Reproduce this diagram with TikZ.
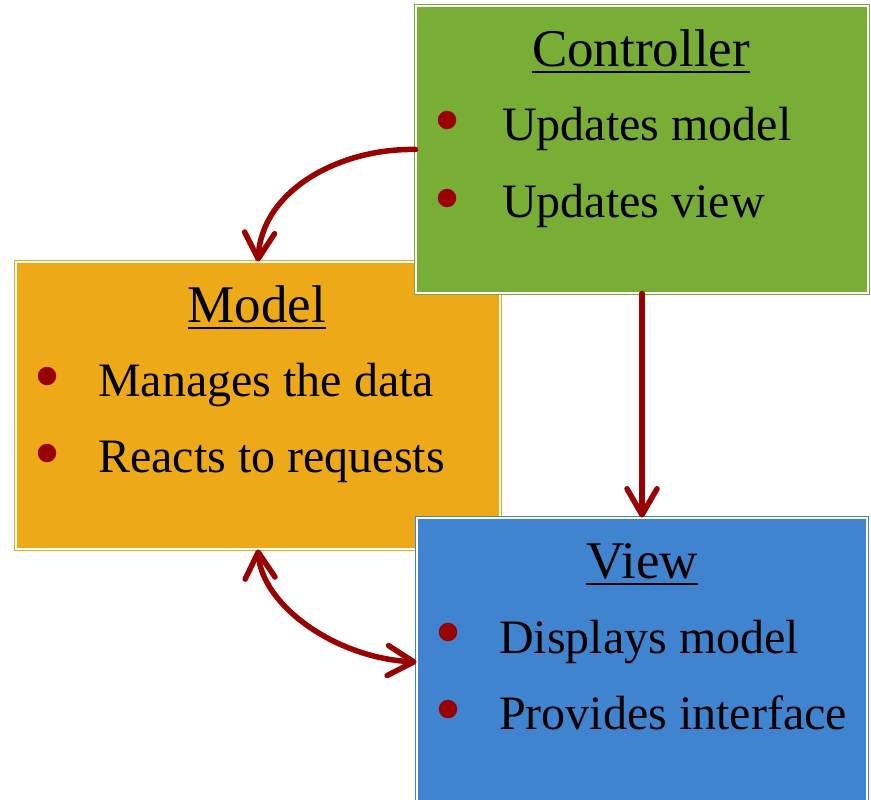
\documentclass[tikz,border=0pt]{standalone}
\usepackage{fontspec}
\setmainfont{Liberation Serif}
\usetikzlibrary{arrows.meta}
\definecolor{cgreen}{RGB}{120,173,54}
\definecolor{corange}{RGB}{238,169,24}
\definecolor{cblue}{RGB}{64,131,207}
\definecolor{cred}{RGB}{153,0,0}
\tikzset{
  box/.style={rectangle, line width=0.9pt, double=white, double distance=1.5pt, inner sep=0pt},
  ttl/.style={anchor=base, inner sep=0pt, font=\fontsize{53}{60}\selectfont},
  itm/.style={anchor=base west, inner sep=0pt, font=\fontsize{48}{56}\selectfont},
  dot/.style={circle, fill=cred, minimum size=18.5pt, inner sep=0pt},
  uline/.style={line width=2.5pt},
  conn/.style={draw=cred, line width=5.5pt, line cap=round,
    -{Straight Barb[length=26pt, width=30pt, round]}},
  conn2/.style={draw=cred, line width=5.5pt, line cap=round,
    {Straight Barb[length=26pt, width=30pt, round]}-{Straight Barb[length=26pt, width=30pt, round]}}
}
\begin{document}
\begin{tikzpicture}[x=1pt, y=-1pt]
\clip (0,0) rectangle (871,800);
\fill[white] (0,0) rectangle (871,800);
% boxes
\node[box, draw=corange, fill=corange, minimum width=484pt, minimum height=287pt] (model) at (258,405.5) {};
\node[box, draw=cgreen, fill=cgreen, minimum width=452pt, minimum height=287pt] (ctrl) at (642,149.5) {};
\node[box, draw=cblue, fill=cblue, minimum width=450pt, minimum height=288pt] (view) at (642,662) {};
% controller text
\node[ttl] (ctitle) at (641,67) {Controller};
\draw[uline] ([yshift=-5pt]ctitle.base west) -- ([yshift=-5pt]ctitle.base east);
\node[dot] (cd1) at (447,120) {};
\node[itm] (ci1) at (502,140) {Updates model};
\node[dot] (cd2) at (447,198) {};
\node[itm] (ci2) at (502,217) {Updates view};
% model text
\node[ttl] (mtitle) at (257,322) {Model};
\draw[uline] ([yshift=-6pt]mtitle.base west) -- ([yshift=-6pt]mtitle.base east);
\node[dot] (md1) at (47,376) {};
\node[itm] (mi1) at (98,396) {Manages the data};
\node[dot] (md2) at (47,453) {};
\node[itm] (mi2) at (98,472) {Reacts to requests};
% view text
\node[ttl] (vtitle) at (642,578) {View};
\draw[uline] ([yshift=-6pt]vtitle.base west) -- ([yshift=-6pt]vtitle.base east);
\node[dot] (vd1) at (448,632) {};
\node[itm] (vi1) at (499,653) {Displays model};
\node[dot] (vd2) at (448,709) {};
\node[itm] (vi2) at (499,729) {Provides interface};
% connectors
\draw[conn] (ctrl.west) .. controls (340,148) and (262,190) .. (model.north);
\draw[conn] (ctrl.south) -- (view.north);
\draw[conn2] (model.south) .. controls (262,605) and (335,658) .. (view.west);
\end{tikzpicture}
\end{document}
